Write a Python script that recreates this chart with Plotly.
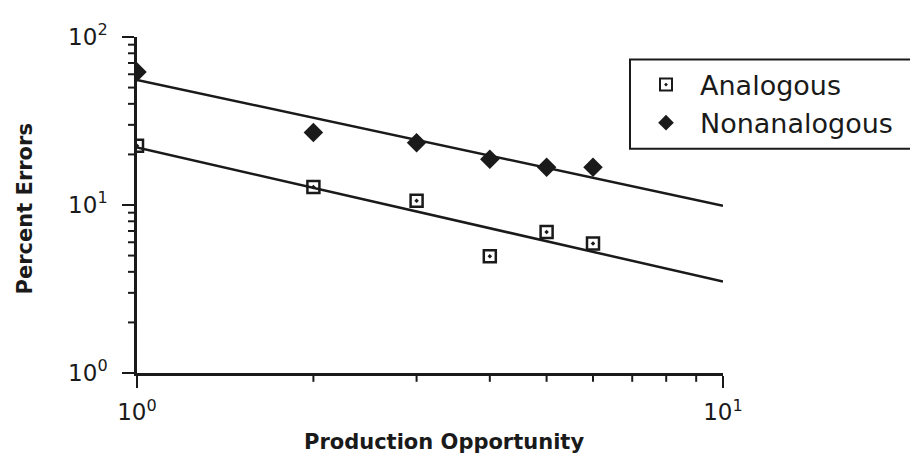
import plotly.graph_objects as go

# Data
opportunity = [1, 2, 3, 4, 5, 6]
analogous = [22.5, 12.8, 10.6, 4.95, 6.9, 5.9]
nonanalogous = [62, 27, 23.5, 18.7, 16.8, 16.8]

# Power-law fit lines (end points)
fit_x = [1, 10]
analogous_fit = [22.0, 3.5]
nonanalogous_fit = [55.5, 9.9]

x_tickvals = [1, 10]
x_ticktext = ["10<sup>0</sup>", "10<sup>1</sup>"]
y_tickvals = [1, 10, 100]
y_ticktext = ["10<sup>0</sup>", "10<sup>1</sup>", "10<sup>2</sup>"]
x_minor = [2, 3, 4, 5, 6, 7, 8, 9]
y_minor = [2, 3, 4, 5, 6, 7, 8, 9, 20, 30, 40, 50, 60, 70, 80, 90]

FONT = "DejaVu Sans"
INK = "#1a1a1a"

# page body has an 8px margin, so the figure is offset by (8, 8)
L, T, R, B = 129, 22, 195, 84
W, H = 910, 449
PW, PH = W - L - R, H - T - B
px0, py0 = 8 + L, 8 + T  # plot-area top-left in window pixels


def paper_x(px):
    return (px - px0) / PW


def paper_y(py):
    return (py0 + PH - py) / PH


fig = go.Figure()

fig.add_trace(go.Scatter(x=fit_x, y=nonanalogous_fit, mode="lines",
                         line=dict(color=INK, width=2.5), showlegend=False, hoverinfo="skip"))
fig.add_trace(go.Scatter(x=fit_x, y=analogous_fit, mode="lines",
                         line=dict(color=INK, width=2.5), showlegend=False, hoverinfo="skip"))

fig.add_trace(go.Scatter(x=opportunity, y=analogous, mode="markers", name="Analogous",
                         marker=dict(symbol="square-open-dot", size=12, color=INK,
                                     line=dict(color=INK, width=2.5))))
fig.add_trace(go.Scatter(x=opportunity, y=nonanalogous, mode="markers", name="Nonanalogous",
                         marker=dict(symbol="diamond", size=15, color=INK,
                                     line=dict(color=INK, width=0))))

fig.update_xaxes(type="log", range=[0, 1], showgrid=False, zeroline=False,
                 showline=True, linecolor=INK, linewidth=2.5,
                 tickmode="array", tickvals=x_tickvals, ticktext=x_ticktext,
                 ticks="outside", ticklen=12, tickwidth=2, tickcolor=INK,
                 ticklabelstandoff=5,
                 tickfont=dict(family=FONT, size=23, color=INK))
fig.update_yaxes(type="log", range=[0, 2], showgrid=False, zeroline=False,
                 showline=True, linecolor=INK, linewidth=2.5,
                 tickmode="array", tickvals=y_tickvals, ticktext=y_ticktext,
                 ticks="outside", ticklen=12, tickwidth=2, tickcolor=INK,
                 ticklabelstandoff=10,
                 tickfont=dict(family=FONT, size=23, color=INK))

# minor ticks (2..9 in every decade), drawn outside the axis lines
MINOR_LEN = 9
for v in x_minor:
    fig.add_shape(type="line", xref="x", yref="paper", x0=v, x1=v,
                  y0=0, y1=-MINOR_LEN / PH, line=dict(color=INK, width=2))
for v in y_minor:
    fig.add_shape(type="line", xref="paper", yref="y", y0=v, y1=v,
                  x0=0, x1=-MINOR_LEN / PW, line=dict(color=INK, width=2))

fig.add_annotation(text="<b>Production Opportunity</b>", xref="paper", yref="paper",
                   x=paper_x(444), y=paper_y(443), xanchor="center", yanchor="middle",
                   showarrow=False, font=dict(family=FONT, size=21, color=INK))
fig.add_annotation(text="<b>Percent Errors</b>", xref="paper", yref="paper",
                   x=paper_x(25), y=paper_y(205), xanchor="center", yanchor="middle",
                   textangle=-90, showarrow=False, font=dict(family=FONT, size=21, color=INK))

# legend frame
fig.add_shape(type="rect", xref="paper", yref="paper",
              x0=paper_x(630), x1=paper_x(920), y0=paper_y(144), y1=paper_y(53),
              line=dict(color=INK, width=2), fillcolor="rgba(0,0,0,0)")

fig.update_layout(
    width=W, height=H,
    margin=dict(l=L, r=R, t=T, b=B),
    paper_bgcolor="white", plot_bgcolor="white",
    font=dict(family=FONT, color=INK),
    legend=dict(x=paper_x(632), y=paper_y(54), xanchor="left", yanchor="top",
                bgcolor="rgba(0,0,0,0)", borderwidth=0,
                font=dict(family=FONT, size=27, color=INK),
                itemwidth=58, itemsizing="constant"),
)

fig.write_html("out.html")
